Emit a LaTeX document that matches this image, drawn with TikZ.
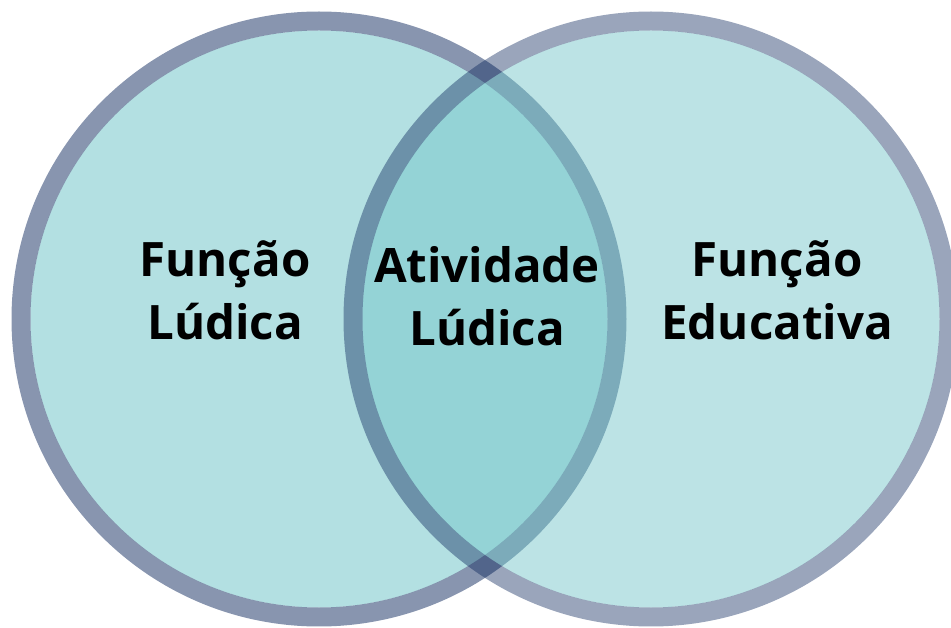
\documentclass[tikz,border=0pt]{standalone}
\usepackage{fontspec}
\newfontfamily\vennfont{Open Sans}
\usepackage{tikz}
\usetikzlibrary{positioning}

\definecolor{vennfill}{RGB}{113,196,200}
\definecolor{vennline}{RGB}{2,30,85}

\tikzset{
  venntext/.style={font=\vennfont\bfseries\fontsize{27}{36.4}\selectfont, align=center, anchor=base, inner sep=0pt}
}

\begin{document}
\begin{tikzpicture}[x=0.02cm,y=-0.02cm]
\edef\r{298}
\edef\ri{288.5}
\edef\yc{319}

\useasboundingbox (0,0) rectangle (951,628);

% left circle
\fill[vennfill, opacity=0.535](319,\yc) circle [radius=\ri];
\draw[vennline, opacity=0.47, line width=0.38cm](319,\yc) circle [radius=\r];

% right circle
\fill[vennfill, opacity=0.47](651,\yc) circle [radius=\ri];
\draw[vennline, opacity=0.40, line width=0.38cm](651,\yc) circle [radius=\r];

\node[venntext] (ludica) at (225,340) {Função\\Lúdica};
\node[venntext] (atividade) at (487,346) {Atividade\\Lúdica};
\node[venntext] (educativa) at (777,340) {Função\\Educativa};
\end{tikzpicture}
\end{document}
